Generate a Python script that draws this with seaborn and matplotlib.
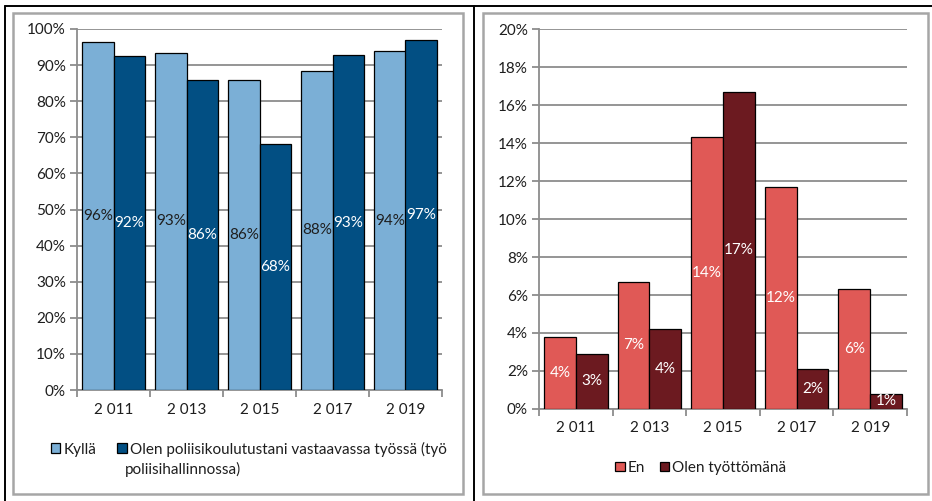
import matplotlib
matplotlib.use("Agg")
import matplotlib.pyplot as plt
from matplotlib.lines import Line2D
from matplotlib.patches import Rectangle, Patch
import seaborn as sns
import pandas as pd
import numpy as np

# Survey years and shares (percent)
years = ["2 011", "2 013", "2 015", "2 017", "2 019"]

employed_labels = ["Kyllä",
                   "Olen poliisikoulutustani vastaavassa työssä (työ poliisihallinnossa)"]
kylla = [96.3, 93.4, 85.8, 88.4, 93.8]
vastaava_tyo = [92.4, 85.9, 68.1, 92.7, 97.0]

unemployed_labels = ["En", "Olen työttömänä"]
en = [3.8, 6.7, 14.3, 11.7, 6.3]
tyoton = [2.9, 4.2, 16.7, 2.1, 0.8]

blue_colors = ["#7BAFD6", "#024F83"]
red_colors = ["#E05956", "#6C1A20"]

FS = 11

sns.set_theme(style="white")
plt.rcParams["font.family"] = ["Lato", "DejaVu Sans"]
plt.rcParams["font.size"] = FS

fig = plt.figure(figsize=(9.32, 5.01), dpi=100)
W, H = 932, 501


def fx(x):
    return x / W


def fy(y):
    return 1 - y / H


# Frame lines around and between the two panels
fig.add_artist(Line2D([fx(5), 1], [fy(6), fy(6)], color="black", lw=1.4))
fig.add_artist(Line2D([fx(5), fx(5)], [fy(6), 0], color="black", lw=1.4))
fig.add_artist(Line2D([fx(474), fx(474)], [fy(6), 0], color="black", lw=1.4))
for x0, x1 in [(13, 463), (483, 928)]:
    fig.add_artist(Rectangle((fx(x0), fy(494)), fx(x1 - x0), (494 - 13) / H,
                             fill=False, edgecolor="#a6a6a6", lw=1.8))

grid_color = "#8c8c8c"
text_color = "#1e1e1e"


def long_frame(labels, a, b):
    return pd.DataFrame({
        "year": years * 2,
        "series": [labels[0]] * len(years) + [labels[1]] * len(years),
        "value": list(a) + list(b),
    })


def draw_panel(ax, df, labels, colors, ymax, ystep, label_colors):
    sns.barplot(data=df, x="year", y="value", hue="series", hue_order=labels,
                palette=colors, width=0.865, gap=0, edgecolor="black",
                linewidth=0.9, saturation=1, ax=ax, legend=False, zorder=3)
    ax.set_ylim(0, ymax)
    ax.set_xlim(-0.5, len(years) - 0.5)
    ticks = np.arange(0, ymax + 0.001, ystep)
    ax.set_yticks(ticks)
    ax.set_yticklabels([f"{int(round(v))}%" for v in ticks], color=text_color)
    ax.yaxis.grid(True, color=grid_color, lw=1.3, zorder=0)
    ax.set_axisbelow(True)
    ax.set_xlabel("")
    ax.set_ylabel("")
    for s in ["top", "right"]:
        ax.spines[s].set_visible(False)
    for s in ["left", "bottom"]:
        ax.spines[s].set_color(grid_color)
        ax.spines[s].set_linewidth(1.3)
    ax.tick_params(axis="y", left=True, length=5, width=1.3, color=grid_color,
                   pad=3, labelsize=FS)
    ax.tick_params(axis="x", bottom=False, length=0, pad=9, labelsize=FS,
                   labelcolor=text_color)
    ax.set_xticks(np.arange(-0.5, len(years), 1), minor=True)
    ax.tick_params(axis="x", which="minor", bottom=True, length=5, width=1.3,
                   color=grid_color)

    for container, tc in zip(ax.containers, label_colors):
        ax.bar_label(container, labels=[f"{v:.0f}%" for v in container.datavalues],
                     label_type="center", color=tc, fontsize=FS, zorder=5)

    handles = [Patch(facecolor=c, edgecolor="black", lw=0.9) for c in colors]
    return handles


ax1 = fig.add_axes([fx(77), fy(390), fx(442 - 77), (390 - 29) / H])
h1 = draw_panel(ax1, long_frame(employed_labels, kylla, vastaava_tyo),
                employed_labels, blue_colors, 100, 10, [text_color, "white"])

# The long legend entry wraps onto a second line that starts under its marker
first_part, rest = employed_labels[1].rsplit(" ", 1)
leg1 = fig.legend(h1, [employed_labels[0], first_part], loc="center left",
                  bbox_to_anchor=(fx(51), fy(449)), ncol=2, frameon=False,
                  handlelength=0.6, handleheight=0.6, handletextpad=0.2,
                  columnspacing=1.4, fontsize=FS, labelcolor=text_color,
                  borderaxespad=0, borderpad=0)
fig.text(fx(125), fy(469), rest, ha="left", va="center", fontsize=FS,
         color=text_color)

ax2 = fig.add_axes([fx(539), fy(409), fx(907 - 539), (409 - 29) / H])
h2 = draw_panel(ax2, long_frame(unemployed_labels, en, tyoton),
                unemployed_labels, red_colors, 20, 2, ["white", "white"])
fig.legend(h2, unemployed_labels, loc="center",
           bbox_to_anchor=(fx(701), fy(468)), ncol=2, frameon=False,
           handlelength=0.6, handleheight=0.6, handletextpad=0.2,
           columnspacing=1.0, fontsize=FS, labelcolor=text_color,
           borderaxespad=0, borderpad=0)

fig.savefig("out.png", dpi=100)
